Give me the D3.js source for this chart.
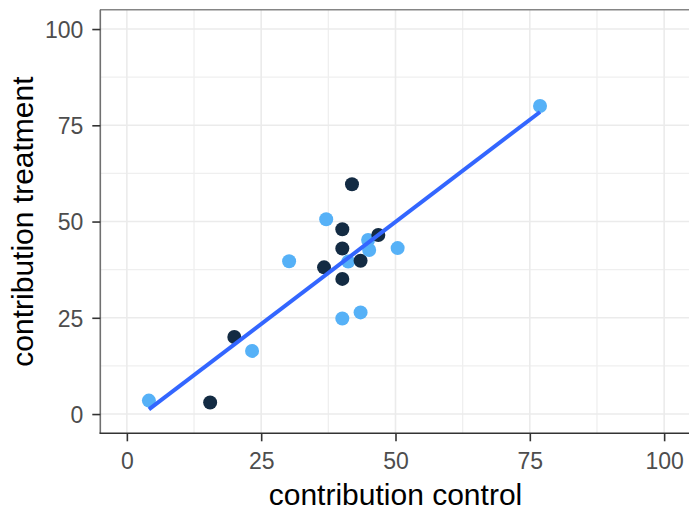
<!DOCTYPE html>
<html>
<head>
<meta charset="utf-8">
<script src="https://cdn.jsdelivr.net/npm/d3@7"></script>
<style>
  html, body { margin: 0; padding: 0; background: #fff; }
  svg { display: block; }
</style>
</head>
<body>
<div id="chart"></div>
<script>
// contribution values
const control   = [4.1, 15.5, 20.0, 23.3, 30.2, 36.7, 37.1, 40.1, 40.1, 40.1, 40.1, 41.9, 41.2, 43.5, 44.9, 45.1, 46.8, 50.4, 43.5, 76.9];
const treatment = [3.5,  3.0, 20.0, 16.4, 39.7, 38.1, 50.6, 48.0, 43.0, 35.1, 24.8, 59.7, 39.6, 39.8, 45.2, 42.6, 46.5, 43.1, 26.4, 80.0];
const group     = ['t', 'c', 'c', 't', 't', 'c', 't', 'c', 'c', 'c', 't', 'c', 't', 'c', 't', 't', 'c', 't', 't', 't'];
const ticks     = [0, 25, 50, 75, 100];
const minorTicks = [12.5, 37.5, 62.5, 87.5];

const W = 689, H = 511;
const font = "'Liberation Sans', Arial, sans-serif";
const colors = { c: '#132B43', t: '#56B1F7' };

const x = d3.scaleLinear().domain([-5, 105]).range([100, 691]);
const y = d3.scaleLinear().domain([-5, 105]).range([433.3, 9.8]);

const svg = d3.select('#chart').append('svg')
  .attr('width', W).attr('height', H);

// Grid
const grid = svg.append('g');
minorTicks.forEach(t => {
  grid.append('line').attr('x1', x(t)).attr('x2', x(t)).attr('y1', y.range()[0]).attr('y2', y.range()[1])
    .attr('stroke', '#EFEFEF').attr('stroke-width', 1.3);
  grid.append('line').attr('y1', y(t)).attr('y2', y(t)).attr('x1', x.range()[0]).attr('x2', x.range()[1])
    .attr('stroke', '#EFEFEF').attr('stroke-width', 1.3);
});
ticks.forEach(t => {
  grid.append('line').attr('x1', x(t)).attr('x2', x(t)).attr('y1', y.range()[0]).attr('y2', y.range()[1])
    .attr('stroke', '#EBEBEB').attr('stroke-width', 1.6);
  grid.append('line').attr('y1', y(t)).attr('y2', y(t)).attr('x1', x.range()[0]).attr('x2', x.range()[1])
    .attr('stroke', '#EBEBEB').attr('stroke-width', 1.6);
});

// Points
const pts = control.map((c, i) => ({ c, t: treatment[i], g: group[i] }));
svg.append('g').selectAll('circle')
  .data(pts).enter().append('circle')
  .attr('cx', d => x(d.c)).attr('cy', d => y(d.t))
  .attr('r', 7)
  .attr('fill', d => colors[d.g]);

// Linear fit (lm) over all points
const mx = d3.mean(control), my = d3.mean(treatment);
const sxy = d3.sum(control, (c, i) => (c - mx) * (treatment[i] - my));
const sxx = d3.sum(control, c => (c - mx) * (c - mx));
const slope = sxy / sxx, icpt = my - slope * mx;
const [x0, x1] = d3.extent(control);
svg.append('line')
  .attr('x1', x(x0)).attr('y1', y(icpt + slope * x0))
  .attr('x2', x(x1)).attr('y2', y(icpt + slope * x1))
  .attr('stroke', '#3366FF').attr('stroke-width', 4);

// Panel border / axis lines
svg.append('line').attr('x1', 100).attr('x2', 691).attr('y1', y.range()[1]).attr('y2', y.range()[1])
  .attr('stroke', '#858585').attr('stroke-width', 1.6);
svg.append('line').attr('x1', 100.3).attr('x2', 100.3).attr('y1', y.range()[1]).attr('y2', y.range()[0])
  .attr('stroke', '#707070').attr('stroke-width', 1.6);
svg.append('line').attr('x1', 99.5).attr('x2', 691).attr('y1', 433.3).attr('y2', 433.3)
  .attr('stroke', '#333333').attr('stroke-width', 1.6);

// Axes
const xAxis = svg.append('g').attr('transform', 'translate(0,433.3)')
  .call(d3.axisBottom(x).tickValues(ticks).tickSize(8).tickPadding(6).tickFormat(d3.format('d')));
xAxis.select('.domain').remove();
xAxis.selectAll('line').attr('stroke', '#333').attr('stroke-width', 1.6);
xAxis.selectAll('text').attr('fill', '#4D4D4D').attr('font-family', font).attr('font-size', '23px')
  .attr('dy', null).attr('y', 36);

const yAxis = svg.append('g').attr('transform', 'translate(100.3,0)')
  .call(d3.axisLeft(y).tickValues(ticks).tickSize(8).tickPadding(9).tickFormat(d3.format('d')));
yAxis.select('.domain').remove();
yAxis.selectAll('line').attr('stroke', '#333').attr('stroke-width', 1.6);
yAxis.selectAll('text').attr('fill', '#4D4D4D').attr('font-family', font).attr('font-size', '23px')
  .attr('dy', '0.36em');

// Titles
svg.append('text')
  .attr('x', (100 + 691) / 2).attr('y', 505)
  .attr('text-anchor', 'middle')
  .attr('font-family', font).attr('font-size', '30px').attr('fill', '#000')
  .text('contribution control');

svg.append('text')
  .attr('transform', `translate(33,${(9.8 + 433.3) / 2}) rotate(-90)`)
  .attr('text-anchor', 'middle')
  .attr('font-family', font).attr('font-size', '30px').attr('fill', '#000')
  .text('contribution treatment');
</script>
</body>
</html>
